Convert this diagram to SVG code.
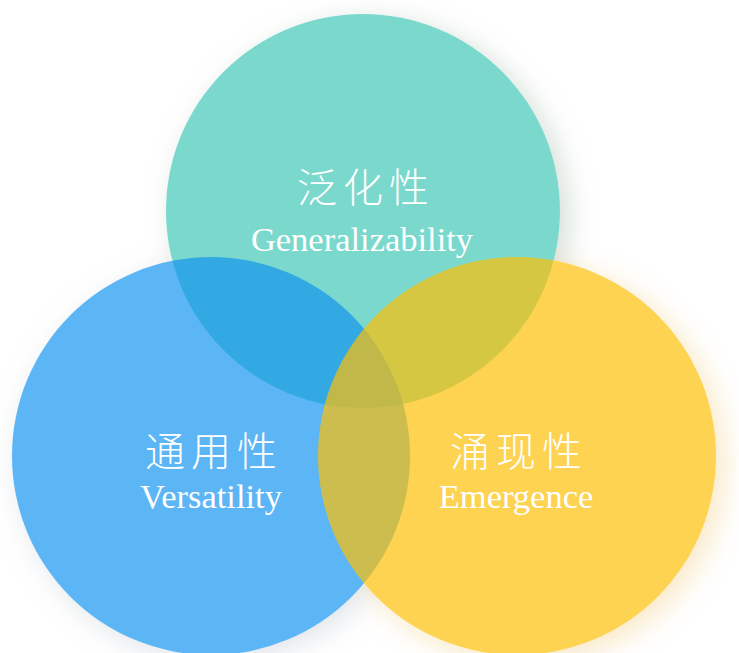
<svg xmlns="http://www.w3.org/2000/svg" width="739" height="653" viewBox="0 0 739 653">
  <defs>
    <filter id="soft" x="-30%" y="-30%" width="160%" height="160%">
      <feGaussianBlur stdDeviation="14"/>
    </filter>
    <style>
      .shadow { filter: url(#soft); opacity: 0.5; }
      .zh { font-family: "Noto Sans CJK SC", "Noto Sans CJK JP", sans-serif; font-size: 40px; fill: #ffffff; font-weight: 300; }
      .en { font-family: "Liberation Serif", "Times New Roman", serif; font-size: 34.5px; fill: #ffffff; text-anchor: middle; }
    </style>
  </defs>
  <rect width="739" height="653" fill="#ffffff"/>
  <g id="shadows">
    <circle class="shadow" cx="371" cy="218" r="197" fill="#a9bfae"/>
    <circle class="shadow" cx="217" cy="463" r="199" fill="#c4ccd4"/>
    <circle class="shadow" cx="525" cy="463" r="199" fill="#f3d189"/>
    <circle cx="363" cy="211" r="197" fill="#ffffff"/>
    <circle cx="211" cy="456" r="199" fill="#ffffff"/>
    <circle cx="517" cy="456" r="199" fill="#ffffff"/>
  </g>
  <g id="generalizability">
    <circle cx="363" cy="211" r="197" fill="#7ad8cc"/>
  </g>
  <g id="versatility">
    <circle cx="211" cy="456" r="199" fill="#1394ef" fill-opacity="0.69"/>
  </g>
  <g id="emergence">
    <circle cx="517" cy="456" r="199" fill="#fcc107" fill-opacity="0.7"/>
  </g>
  <g id="labels">
    <text class="zh" x="297 343 389" y="202">泛化性</text>
    <text class="en" x="362" y="251">Generalizability</text>
    <text class="zh" x="145 191 237" y="466">通用性</text>
    <text class="en" x="211" y="508">Versatility</text>
    <text class="zh" x="450 496 542" y="466">涌现性</text>
    <text class="en" x="516" y="508">Emergence</text>
  </g>
  <g id="connectors"/>
</svg>
